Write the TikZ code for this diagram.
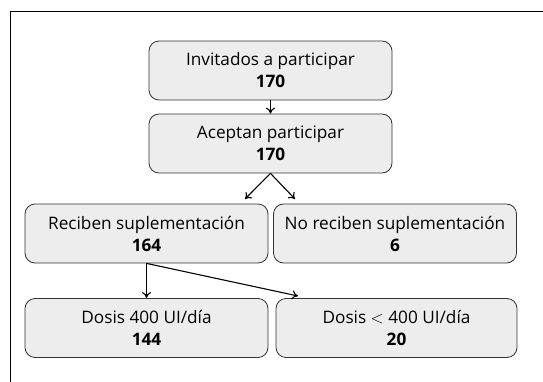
\documentclass[tikz,border=0pt]{standalone}
\usepackage{fontspec}
\setmainfont{Open Sans}
\usetikzlibrary{arrows.meta}
\tikzset{
  flowbox/.style={draw=black!80, fill=gray!14, rounded corners=10pt, line width=0.8pt,
    minimum width=243pt, minimum height=59pt, align=center, inner sep=2pt,
    font=\fontsize{17.2}{22}\selectfont},
  flowarrow/.style={-{To[length=6pt,width=9pt]}, line width=1.1pt}
}
\begin{document}
\begin{tikzpicture}[x=1pt,y=-1pt]
\useasboundingbox (0,0) rectangle (543,382);
% frame
\draw[line width=1pt] (543,12) -- (10,12) -- (10,382);
% boxes
\node[flowbox] (invit) at (270.5,70.5) {Invitados a participar\\\textbf{170}};
\node[flowbox] (acept) at (270.5,143.5) {Aceptan participar\\\textbf{170}};
\node[flowbox] (recib) at (146.5,233.5) {Reciben suplementación\\\textbf{164}};
\node[flowbox] (norecib) at (395,233.5) {No reciben suplementación\\\textbf{6}};
\node[flowbox] (dosis) at (146.5,328) {Dosis 400 UI/día\\\textbf{144}};
\node[flowbox, minimum width=241pt] (dosismenos) at (396.5,328) {Dosis $<$ 400 UI/día\\\textbf{20}};
% arrows
\coordinate (splitL) at (245,199);
\coordinate (splitR) at (295,199);
\coordinate (lowR) at (298,296);
\draw[flowarrow] (invit.south) -- (acept.north);
\draw[flowarrow] (acept.south) -- (splitL);
\draw[flowarrow] (acept.south) -- (splitR);
\draw[flowarrow] (recib.south) -- (dosis.north);
\draw[flowarrow] (recib.south) -- (lowR);
\end{tikzpicture}
\end{document}
